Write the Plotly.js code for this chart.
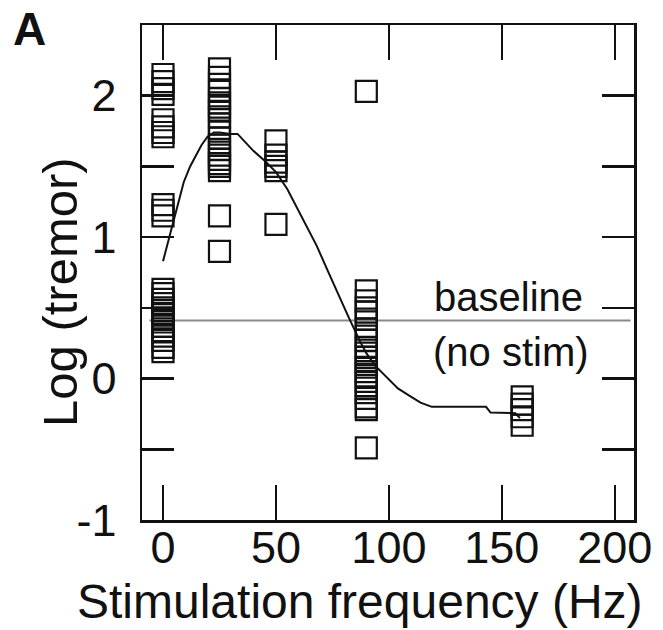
<!DOCTYPE html>
<html>
<head>
<meta charset="utf-8">
<script src="https://cdn.plot.ly/plotly-3.0.1.min.js"></script>
<style>html,body{margin:0;padding:0;background:#fff;}#chart{width:663px;height:630px;}</style>
</head>
<body>
<div id="chart"></div>
<script>
// Measured tremor values (log) per stimulation frequency
const x0Hz = [2.15, 2.10, 2.05, 2.01, 1.83, 1.78, 1.74, 1.71, 1.23, 1.19, 1.15,
  0.63, 0.60, 0.56, 0.53, 0.50, 0.48, 0.46, 0.43, 0.40, 0.37, 0.33, 0.30, 0.27, 0.22, 0.19];
const x25Hz = [2.19, 2.13, 2.08, 2.03, 1.98, 1.95, 1.92, 1.89, 1.85, 1.80, 1.75, 1.70,
  1.65, 1.62, 1.58, 1.55, 1.52, 1.50, 1.47, 1.15, 0.90];
const x50Hz = [1.68, 1.58, 1.53, 1.50, 1.47, 1.09];
const x90Hz = [2.03, 0.62, 0.55, 0.50, 0.47, 0.42, 0.35, 0.30, 0.27, 0.22, 0.18, 0.15,
  0.12, 0.08, 0.05, 0.02, -0.02, -0.05, -0.10, -0.14, -0.20, -0.22, -0.49];
const x160Hz = [-0.13, -0.18, -0.22, -0.27, -0.33];
const freqs = [0, 25, 50, 90, 159];
const groups = [x0Hz, x25Hz, x50Hz, x90Hz, x160Hz];

// Smoothed trend curve
const curveX = [0, 2, 4.7, 7, 9.2, 12, 14.5, 17, 19.7, 22.5, 25, 30, 33, 36, 40, 45, 50, 55, 59, 64, 68, 73, 78, 82, 87, 90, 94, 100, 104, 109, 114, 119, 143, 145, 156, 158];
const curveY = [0.83, 0.95, 1.10, 1.25, 1.39, 1.50, 1.58, 1.65, 1.71, 1.74, 1.74, 1.73, 1.73, 1.68, 1.61, 1.54, 1.46, 1.34, 1.22, 1.07, 0.94, 0.76, 0.58, 0.44, 0.27, 0.18, 0.09, -0.01, -0.07, -0.12, -0.17, -0.20, -0.20, -0.24, -0.245, -0.28];

// Baseline (no stimulation)
const baselineX = [-6, 207];
const baselineY = [0.41, 0.41];

const xTicks = [0, 50, 100, 150, 200];
const yTicks = [-1, -0.5, 0, 0.5, 1, 1.5, 2];
const yTickText = ['-1', '', '0', '', '1', '', '2'];

const ptsX = [], ptsY = [];
groups.forEach((g, i) => g.forEach(v => { ptsX.push(freqs[i]); ptsY.push(v); }));

const FONT = 'Liberation Sans, Arial, Helvetica, sans-serif';

const traces = [
  {x: baselineX, y: baselineY, mode: 'lines', line: {color: '#8a8a8a', width: 2}, hoverinfo: 'skip'},
  {x: ptsX, y: ptsY, mode: 'markers', marker: {symbol: 'square-open', size: 21, color: '#111', line: {width: 2.2, color: '#111'}}},
  {x: curveX, y: curveY, mode: 'lines', line: {color: '#111', width: 2}}
];

const axisCommon = {
  showgrid: false, zeroline: false, showline: true, linecolor: '#111', linewidth: 2.5,
  mirror: 'ticks', ticks: 'inside', tickcolor: '#111', tickwidth: 2.5,
  tickfont: {family: FONT, size: 45, color: '#111'}
};

const layout = {
  width: 663, height: 630,
  margin: {l: 142, r: 29, t: 25, b: 110},
  paper_bgcolor: '#fff', plot_bgcolor: '#fff',
  showlegend: false,
  xaxis: Object.assign({}, axisCommon, {
    range: [-9.3, 208.5], tickvals: xTicks, ticklen: 35, automargin: false,
    ticklabelstandoff: -14
  }),
  yaxis: Object.assign({}, axisCommon, {
    range: [-1.0, 2.5], tickvals: yTicks, ticktext: yTickText, ticklen: 32, automargin: false,
    ticklabelstandoff: 14
  }),
  annotations: [
    {xref: 'paper', yref: 'paper', x: -0.228, y: 0.992, text: '<b>A</b>', showarrow: false,
     xanchor: 'center', yanchor: 'middle', font: {family: FONT, size: 46, color: '#111'}},
    {xref: 'paper', yref: 'paper', x: 0.443, y: -0.164, text: 'Stimulation frequency (Hz)', showarrow: false,
     xanchor: 'center', yanchor: 'middle', font: {family: FONT, size: 48, color: '#111'}},
    {xref: 'paper', yref: 'paper', x: -0.1667, y: 0.4606, text: 'Log (tremor)', showarrow: false, textangle: -90,
     xanchor: 'center', yanchor: 'middle', font: {family: FONT, size: 49, color: '#111'}},
    {xref: 'x', yref: 'y', x: 153, y: 0.58, text: 'baseline', showarrow: false,
     xanchor: 'center', yanchor: 'middle', font: {family: FONT, size: 40, color: '#111'}},
    {xref: 'x', yref: 'y', x: 154, y: 0.19, text: '(no stim)', showarrow: false,
     xanchor: 'center', yanchor: 'middle', font: {family: FONT, size: 40, color: '#111'}}
  ]
};

Plotly.newPlot('chart', traces, layout, {displayModeBar: false, staticPlot: true});
</script>
</body>
</html>
